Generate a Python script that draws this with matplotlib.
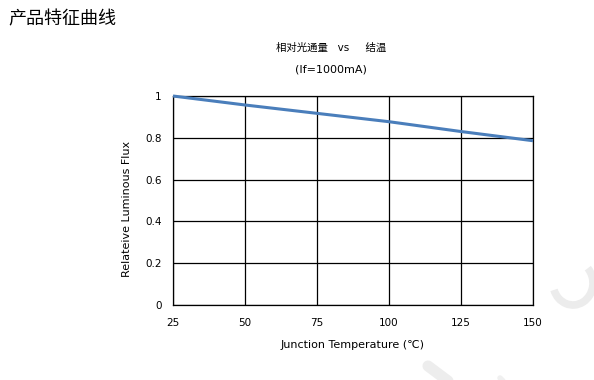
import matplotlib
matplotlib.use('Agg')
import matplotlib.pyplot as plt
from matplotlib.patches import Arc

plt.rcParams['font.family'] = ['DejaVu Sans', 'Noto Sans CJK SC']

# Data
temps = [25, 50, 75, 100, 125, 150]
flux = [1.0, 0.957, 0.917, 0.877, 0.83, 0.786]
x_ticks = [25, 50, 75, 100, 125, 150]
y_ticks = [0, 0.2, 0.4, 0.6, 0.8, 1]
y_labels = ['0', '0.2', '0.4', '0.6', '0.8', '1']

W, H = 594, 380
fig = plt.figure(figsize=(W / 100, H / 100), dpi=100)

# faint watermark strokes behind everything
wm = fig.add_axes([0, 0, 1, 1], zorder=-1)
wm.set_xlim(0, W)
wm.set_ylim(0, H)
wm.axis('off')
wm.add_patch(Arc((573, H - 283), 40, 44, theta1=200, theta2=45, color='#ececec', lw=5.5))
wm.plot([428, 452], [H - 366, H - 384], color='#ededed', lw=8, solid_capstyle='round')
wm.plot([500, 508], [H - 378, H - 386], color='#f0f0f0', lw=4, solid_capstyle='round')

ax = fig.add_axes([173 / W, 1 - 305 / H, 360 / W, 209 / H])
ax.plot(temps, flux, color='#4a7ebb', lw=2.2, solid_capstyle='butt', zorder=3, clip_on=False)

ax.set_xlim(25, 150)
ax.set_ylim(0, 1)
ax.set_xticks(x_ticks)
ax.set_yticks(y_ticks)
ax.set_yticklabels(y_labels)
ax.grid(True, color='black', lw=0.9, zorder=0)
for s in ax.spines.values():
    s.set_color('black')
    s.set_linewidth(0.9)
ax.tick_params(axis='x', length=0, labelsize=7.5, pad=9.5)
ax.tick_params(axis='y', length=0, labelsize=7.5, pad=8)

ax.set_xlabel('Junction Temperature (\u2103)', fontsize=8)
ax.xaxis.label.set_va('center')
ax.xaxis.set_label_coords(0.5, (305 - 345) / 209)
ax.set_ylabel('Relateive Luminous Flux', fontsize=8)
ax.yaxis.label.set_va('center')
ax.yaxis.set_label_coords((127 - 173) / 360, (305 - 209) / 209)

fig.text(8 / W, 1 - 19 / H, '产品特征曲线', fontsize=13, va='center', ha='left',
         family=['Noto Sans CJK SC'])
fig.text(331 / W, 1 - 48 / H, '相对光通量   vs     结温', fontsize=7.5, va='center', ha='center')
fig.text(331 / W, 1 - 70 / H, '(If=1000mA)', fontsize=8, va='center', ha='center')

fig.savefig('out.png', dpi=100, facecolor='white')
